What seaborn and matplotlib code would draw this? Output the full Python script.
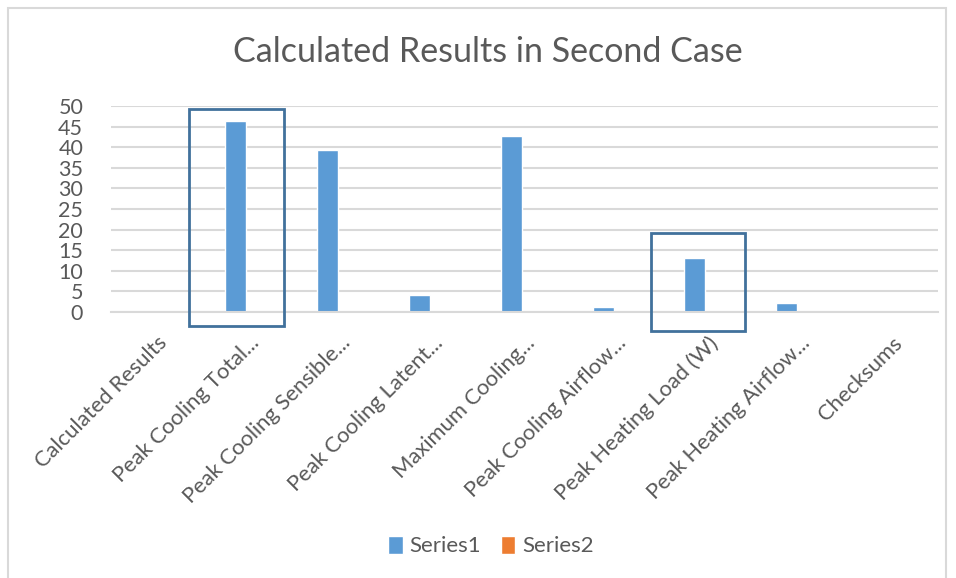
import pandas as pd
import numpy as np
import matplotlib
matplotlib.use("Agg")
import matplotlib.pyplot as plt
import matplotlib.patches as mpatches
import seaborn as sns

categories = [
    "Calculated Results",
    "Peak Cooling Total...",
    "Peak Cooling Sensible...",
    "Peak Cooling Latent...",
    "Maximum Cooling...",
    "Peak Cooling Airflow...",
    "Peak Heating Load (W)",
    "Peak Heating Airflow...",
    "Checksums",
]
series1 = [0, 46.4, 39.2, 4.1, 42.7, 1.1, 13.0, 2.2, 0]
series2 = [0, 0, 0, 0, 0, 0, 0, 0, 0]
yticks = [0, 5, 10, 15, 20, 25, 30, 35, 40, 45, 50]

blue = "#5B9BD5"
orange = "#ED7D31"
grey_text = "#595959"
grid_col = "#D9D9D9"
box_col = "#41719C"

df = pd.DataFrame({
    "category": categories * 2,
    "value": series1 + series2,
    "series": ["Series1"] * len(categories) + ["Series2"] * len(categories),
})

sns.set_style("white")
plt.rcParams["font.family"] = ["Lato", "DejaVu Sans"]

fig = plt.figure(figsize=(9.56, 5.78), dpi=100)
ax = fig.add_axes([111 / 956, 1 - 312 / 578, (938 - 111) / 956, (312 - 106) / 578])

sns.barplot(data=df, x="category", y="value", hue="series",
            palette=[blue, orange], width=0.58, gap=0.21,
            saturation=1, ax=ax, legend=True)

ax.set_ylim(0, 50)
ax.set_xlim(-0.5, len(categories) - 0.5)
ax.set_yticks(yticks)
ax.yaxis.grid(True, color=grid_col, linewidth=1.5)
ax.set_axisbelow(True)
for s in ["top", "right", "left"]:
    ax.spines[s].set_visible(False)
ax.spines["bottom"].set_color(grid_col)
ax.spines["bottom"].set_linewidth(1.5)
ax.tick_params(axis="both", length=0, colors=grey_text)
ax.tick_params(axis="y", pad=20, labelsize=15.5)
ax.tick_params(axis="x", pad=15, labelsize=15.8)
ax.set_xticks(range(len(categories)))
ax.set_xticklabels(categories, rotation=45, ha="right", va="top",
                   rotation_mode="anchor")
ax.set_xlabel("")
ax.set_ylabel("")

# highlight boxes
for x0, x1, y0, y1 in [(0.35, 1.38, -3.4, 49.3), (5.38, 6.40, -4.6, 19.2)]:
    ax.add_patch(mpatches.Rectangle((x0, y0), x1 - x0, y1 - y0, fill=False,
                                    edgecolor=box_col, linewidth=2,
                                    clip_on=False, zorder=5))

handles, labels = ax.get_legend_handles_labels()
ax.legend(handles, labels, loc="center", bbox_to_anchor=(491 / 956, 1 - 546 / 578),
          bbox_transform=fig.transFigure, ncol=2, frameon=False,
          fontsize=16, labelcolor=grey_text, handlelength=0.65, handleheight=0.9,
          handletextpad=0.3, columnspacing=0.9)

fig.text(488 / 956, 1 - 52 / 578, "Calculated Results in Second Case",
         ha="center", va="center", fontsize=24.5, color=grey_text)

# chart border
fig.patches.append(mpatches.Rectangle((8 / 956, -0.01), (946 - 8) / 956, 1 - 8 / 578 + 0.01,
                                      transform=fig.transFigure, fill=False,
                                      edgecolor=grid_col, linewidth=1.5))

fig.savefig("out.png", dpi=100)
